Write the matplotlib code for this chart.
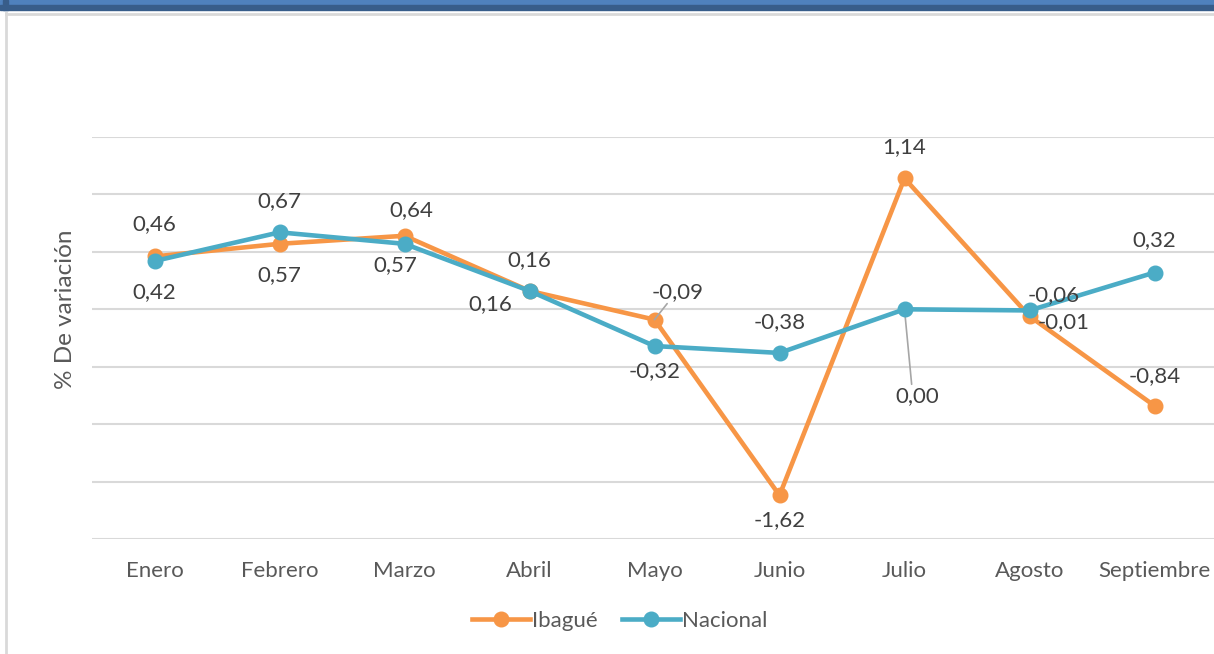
import numpy as np
import matplotlib.pyplot as plt
from matplotlib.patches import Rectangle
from matplotlib.lines import Line2D

# Data (variacion mensual %)
meses = ["Enero", "Febrero", "Marzo", "Abril", "Mayo", "Junio", "Julio", "Agosto", "Septiembre"]
ibague = [0.46, 0.57, 0.64, 0.16, -0.09, -1.62, 1.14, -0.06, -0.84]
nacional = [0.42, 0.67, 0.57, 0.16, -0.32, -0.38, 0.00, -0.01, 0.32]
y_ticks = [-2.0, -1.5, -1.0, -0.5, 0.0, 0.5, 1.0, 1.5]

# label offsets in pixels (dx, dy) relative to each point
off_ibague = [(0, 32), (0, -31), (7, 26), (0, 31), (23, 28), (0, -25), (0, 31), (24, 21), (0, 30)]
off_nacional = [(0, -31), (0, 31), (-9, -21), (-39, -13), (0, -25), (0, 31), (13, -87), (34, -12), (0, 32)]
leader_ib = [False, False, False, False, True, False, False, False, False]
leader_na = [False, False, False, False, False, False, True, False, False]

c_ib = "#F79646"
c_na = "#4BACC6"
txt = "#404040"

plt.rcParams["font.family"] = ["Lato", "DejaVu Sans"]

fig = plt.figure(figsize=(12.14, 6.54), dpi=100)

# frame decoration (blue band on top, grey border)
fig.patches.append(Rectangle((0, 1 - 4.5 / 654), 1, 4.5 / 654, transform=fig.transFigure,
                             color="#4F81BD", zorder=0))
fig.patches.append(Rectangle((0, 1 - 10 / 654), 1, 5.5 / 654, transform=fig.transFigure,
                             color="#385D8A", zorder=0))
fig.patches.append(Rectangle((3 / 1214, 1 - 10 / 654), 5 / 1214, 10 / 654, transform=fig.transFigure,
                             color="#385D8A", zorder=0))
fig.lines.append(Line2D([6 / 1214, 1], [1 - 14 / 654, 1 - 14 / 654], transform=fig.transFigure,
                        color="#D9D9D9", lw=2))
fig.lines.append(Line2D([6 / 1214, 6 / 1214], [0, 1 - 13 / 654], transform=fig.transFigure,
                        color="#D9D9D9", lw=2))

ax = fig.add_axes([92 / 1214, 1 - 539 / 654, 1125 / 1214, 402 / 654])
x = np.arange(len(meses))

ax.plot(x, ibague, color=c_ib, lw=3.3, marker="o", markersize=10.5, label="Ibagué", zorder=3)
ax.plot(x, nacional, color=c_na, lw=3.3, marker="o", markersize=10.5, label="Nacional", zorder=4)

ax.set_xlim(-0.5, len(meses) - 0.5)
ax.set_ylim(-2.0, 1.5)
ax.set_yticks(y_ticks)
ax.set_yticklabels([])
ax.tick_params(axis="y", length=0)
ax.tick_params(axis="x", length=0, pad=16, labelsize=16, labelcolor="#595959")
ax.set_xticks(x)
ax.set_xticklabels(meses)
ax.grid(axis="y", color="#D9D9D9", lw=1.5)
ax.set_axisbelow(True)
for s in ax.spines.values():
    s.set_visible(False)


def fmt(v):
    return f"{v:.2f}".replace(".", ",")


for serie, offs, leads in [(ibague, off_ibague, leader_ib), (nacional, off_nacional, leader_na)]:
    for i, v in enumerate(serie):
        dx, dy = offs[i]
        ax.annotate(fmt(v), (i, v), xytext=(dx, dy), textcoords="offset pixels",
                    ha="center", va="center", fontsize=16, color=txt, zorder=5)
        if leads[i]:
            ax.annotate("", (i, v), xytext=(dx * 0.55, dy - np.sign(dy) * 12),
                        textcoords="offset pixels",
                        arrowprops=dict(arrowstyle="-", color="#A6A6A6", lw=1.2,
                                        shrinkA=0, shrinkB=0))

fig.text(65 / 1214, 1 - 309 / 654, "% De variación", rotation=90, ha="center", va="center",
         fontsize=17.5, color="#595959")

leg = fig.legend(loc="center", bbox_to_anchor=(620 / 1214, 1 - 621 / 654), ncol=2, frameon=False,
                 fontsize=16, handlelength=2.6, handletextpad=0.1, columnspacing=1.1)
for t in leg.get_texts():
    t.set_color("#595959")

fig.savefig("out.png", dpi=100)
